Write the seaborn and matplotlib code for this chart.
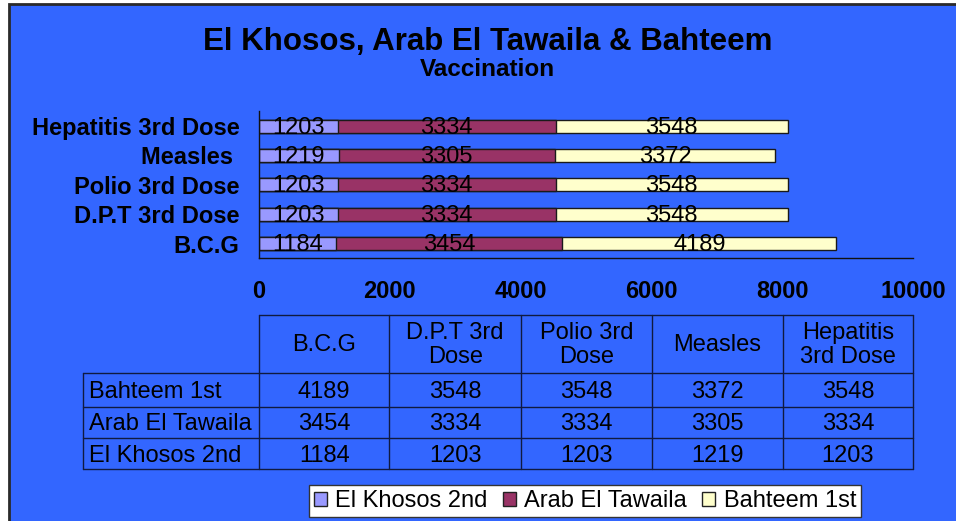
import matplotlib
matplotlib.use("Agg")
import matplotlib.pyplot as plt
import seaborn as sns
import pandas as pd
from matplotlib.patches import Rectangle, Patch
from matplotlib.lines import Line2D

# ---------------- data ----------------
categories = ["B.C.G", "D.P.T 3rd Dose", "Polio 3rd Dose", "Measles ", "Hepatitis 3rd Dose"]
el_khosos = [1184, 1203, 1203, 1219, 1203]
arab_el_tawaila = [3454, 3334, 3334, 3305, 3334]
bahteem = [4189, 3548, 3548, 3372, 3548]
series_names = ["El Khosos 2nd", "Arab El Tawaila", "Bahteem 1st"]
table_headers = ["B.C.G", "D.P.T 3rd\nDose", "Polio 3rd\nDose", "Measles", "Hepatitis\n3rd Dose"]
table_rows = ["Bahteem 1st", "Arab El Tawaila", "El Khosos 2nd"]
x_ticks = [0, 2000, 4000, 6000, 8000, 10000]
title = "El Khosos, Arab El Tawaila & Bahteem"
subtitle = "Vaccination"

colors = ["#9999FF", "#993366", "#FFFFCC"]
BLUE = "#3366FF"
FONT = "Liberation Sans"
FS = 17

sns.set_theme(style="white")
plt.rcParams["font.family"] = [FONT, "DejaVu Sans"]
plt.rcParams["text.color"] = "black"
plt.rcParams["axes.labelcolor"] = "black"
plt.rcParams["xtick.color"] = "black"
plt.rcParams["ytick.color"] = "black"

W, H = 956, 521
fig = plt.figure(figsize=(W / 100, H / 100), dpi=100)
fig.patch.set_facecolor("white")
fig.add_artist(Rectangle((9 / W, -0.02), 1.0, (H - 4) / H + 0.02, transform=fig.transFigure,
                         facecolor=BLUE, edgecolor="#2a2a2a", linewidth=2, zorder=-10))

# ---------------- bar axes ----------------
ax_l, ax_r, ax_t, ax_b = 259, 913, 111.4, 258.3
ax = fig.add_axes([ax_l / W, 1 - ax_b / H, (ax_r - ax_l) / W, (ax_b - ax_t) / H])
ax.set_facecolor("none")

df = pd.DataFrame({"cat": categories, "k": el_khosos, "a": arab_el_tawaila, "b": bahteem})
df["ka"] = df["k"] + df["a"]
df["kab"] = df["ka"] + df["b"]
order = categories[::-1]

for col, c in [("kab", colors[2]), ("ka", colors[1]), ("k", colors[0])]:
    sns.barplot(data=df, x=col, y="cat", order=order, orient="h", color=c,
                saturation=1, edgecolor="#1a1a1a", linewidth=1.0, width=0.44,
                errorbar=None, ax=ax)

for _, row in df.iterrows():
    yi = order.index(row["cat"])
    starts = [0, row["k"], row["ka"]]
    vals = [row["k"], row["a"], row["b"]]
    for s, v in zip(starts, vals):
        ax.text(s + v / 2, yi + 0.05, f"{v}", ha="center", va="center", fontsize=FS,
                color="black", family=FONT)

ax.set_xlim(0, 10000)
ax.set_ylim(len(order) - 0.5, -0.5)
ax.set_xticks(x_ticks)
ax.set_xticklabels([str(t) for t in x_ticks], fontsize=FS, fontweight="bold", family=FONT,
                   color="black")
ax.set_yticks(range(len(order)))
ax.set_yticklabels(order, fontsize=FS, fontweight="bold", family=FONT, color="black")
ax.set_xlabel("")
ax.set_ylabel("")
for s in ["top", "right"]:
    ax.spines[s].set_visible(False)
for s in ["left", "bottom"]:
    ax.spines[s].set_color("#111111")
    ax.spines[s].set_linewidth(1.0)
ax.tick_params(axis="x", direction="out", length=4.3, width=1, color="#111111", pad=11)
ax.tick_params(axis="y", length=0, pad=14)
ax.grid(False)

# ---------------- title ----------------
fig.text(487.5 / W, 1 - 42 / H, title, ha="center", va="center", fontsize=22.5,
         fontweight="bold", family=FONT, color="black")
fig.text(487.5 / W, 1 - 70 / H, subtitle, ha="center", va="center", fontsize=17.5,
         fontweight="bold", family=FONT, color="black")

# ---------------- data table ----------------
tax = fig.add_axes([0, 0, 1, 1])
tax.set_xlim(0, W)
tax.set_ylim(H, 0)
tax.axis("off")
tax.set_facecolor("none")

col_x = [259, 389.5, 521, 652, 783, 913]
row_left = 83.5
hy = [314.7, 373.3, 406.7, 438.3, 469.3]
lc = "#101a40"
lw = 1.0

tax.add_line(Line2D([col_x[0], col_x[-1]], [hy[0], hy[0]], color=lc, lw=lw))
for y in hy[1:]:
    tax.add_line(Line2D([row_left, col_x[-1]], [y, y], color=lc, lw=lw))
for x in col_x:
    tax.add_line(Line2D([x, x], [hy[0], hy[-1]], color=lc, lw=lw))
tax.add_line(Line2D([row_left, row_left], [hy[1], hy[-1]], color=lc, lw=lw))

for j, h in enumerate(table_headers):
    cx = (col_x[j] + col_x[j + 1]) / 2
    tax.text(cx, (hy[0] + hy[1]) / 2 + 1, h, ha="center", va="center", fontsize=FS,
             family=FONT, linespacing=1.15, color="black")

row_vals = [bahteem, arab_el_tawaila, el_khosos]
for i, (name, vals) in enumerate(zip(table_rows, row_vals)):
    cy = (hy[i + 1] + hy[i + 2]) / 2 + 2
    tax.text(row_left + 6, cy, name, ha="left", va="center", fontsize=FS, family=FONT,
             color="black")
    for j, v in enumerate(vals):
        cx = (col_x[j] + col_x[j + 1]) / 2
        tax.text(cx, cy, f"{v}", ha="center", va="center", fontsize=FS, family=FONT,
                 color="black")

# ---------------- legend ----------------
handles = [Patch(facecolor=c, edgecolor="#222222", linewidth=1) for c in colors]
leg = fig.legend(handles, series_names, loc="center", bbox_to_anchor=(585 / W, 1 - 501 / H),
                 ncol=3, frameon=True, fancybox=False,
                 handlelength=0.55, handleheight=0.55, handletextpad=0.35, columnspacing=0.65,
                 borderpad=0.2, prop={"family": FONT, "size": FS})
for t in leg.get_texts():
    t.set_color("black")
leg.get_frame().set_edgecolor("#333333")
leg.get_frame().set_linewidth(1)
leg.get_frame().set_facecolor("white")
leg.get_frame().set_alpha(1)

fig.savefig("out.png", dpi=100)
